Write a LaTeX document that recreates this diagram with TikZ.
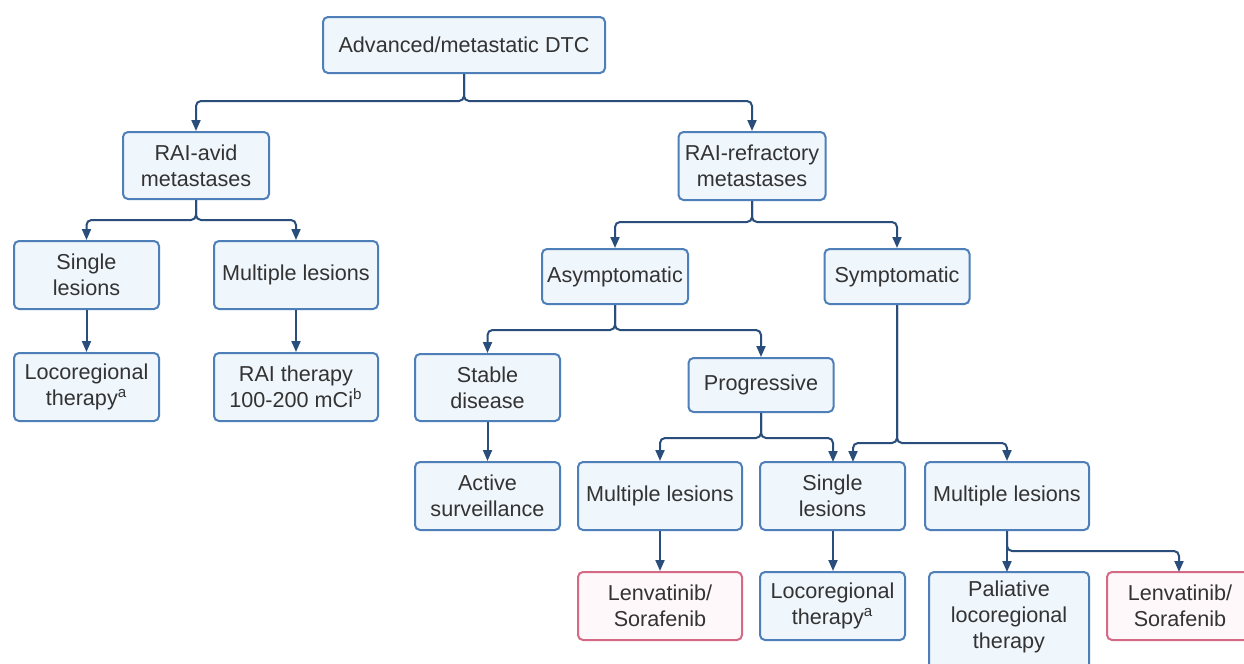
\documentclass[tikz,border=0pt]{standalone}
\usepackage{fontspec}
\setmainfont{Liberation Sans}
\usetikzlibrary{arrows.meta}
\definecolor{bxborder}{HTML}{4F7FB8}
\definecolor{bxfill}{HTML}{EFF6FC}
\definecolor{pkborder}{HTML}{D46A86}
\definecolor{pkfill}{HTML}{FFF8FA}
\definecolor{arrcol}{HTML}{2A4E7C}
\definecolor{txt}{HTML}{333333}
\begin{document}
\begin{tikzpicture}[x=0.5pt,y=-0.5pt,
  box/.style={draw=bxborder, fill=bxfill, line width=1pt, rounded corners=2.5pt,
    inner sep=0pt, align=center, text=txt, font=\fontsize{10.8}{13}\selectfont},
  pinkbox/.style={box, draw=pkborder, fill=pkfill},
  arr/.style={draw=arrcol, line width=1pt, rounded corners=2.5pt,
    -{Triangle[width=4.5pt,length=5.5pt]}}]
\useasboundingbox (0,0) rectangle (1244,664);
\clip (0,0) rectangle (1244,664);
\fill[white] (0,0) rectangle (1244,664);

% nodes
\node[box, minimum width=141pt, minimum height=28pt] (top) at (464,45) {Advanced/metastatic DTC};
\node[box, minimum width=73pt, minimum height=33.5pt] (avid) at (196,165.5) {RAI-avid\\metastases};
\node[box, minimum width=73.5pt, minimum height=34pt] (refr) at (752,166) {RAI-refractory\\metastases};
\node[box, minimum width=72.5pt, minimum height=34pt] (single1) at (86.5,275) {Single\\lesions};
\node[box, minimum width=82pt, minimum height=34pt] (mult1) at (296,275) {Multiple lesions};
\node[box, minimum width=72.5pt, minimum height=34pt] (loco1) at (86.5,387) {Locoregional\\therapy\textsuperscript{a}};
\node[box, minimum width=82pt, minimum height=34pt] (rai) at (296,387) {RAI therapy\\100-200 mCi\textsuperscript{b}};
\node[box, minimum width=73pt, minimum height=27.5pt] (asym) at (615,276.5) {Asymptomatic};
\node[box, minimum width=72.5pt, minimum height=27.5pt] (symp) at (897,276.5) {Symptomatic};
\node[box, minimum width=72.5pt, minimum height=33.5pt] (stable) at (487.5,387.5) {Stable\\disease};
\node[box, minimum width=72.5pt, minimum height=27pt] (prog) at (761,385) {Progressive};
\node[box, minimum width=72.5pt, minimum height=34pt] (active) at (487.5,496) {Active\\surveillance};
\node[box, minimum width=82pt, minimum height=34pt] (mult2) at (660,496) {Multiple lesions};
\node[box, minimum width=72.5pt, minimum height=34pt] (single2) at (832.5,496) {Single\\lesions};
\node[box, minimum width=82pt, minimum height=34pt] (mult3) at (1007,496) {Multiple lesions};
\node[pinkbox, minimum width=82pt, minimum height=34pt] (lenv1) at (660,606) {Lenvatinib/\\Sorafenib};
\node[box, minimum width=72.5pt, minimum height=34pt] (loco2) at (832.5,606) {Locoregional\\therapy\textsuperscript{a}};
\node[box, minimum width=80pt, minimum height=52pt] (pal) at (1009,624) {};
\node[text=txt, font=\fontsize{10.8}{13}\selectfont, align=center, inner sep=0pt] (paltext) at (1009,617) {Paliative\\locoregional\\therapy};
\node[pinkbox, minimum width=73pt, minimum height=34pt] (lenv2) at (1180,606) {Lenvatinib/\\Sorafenib};

% junctions
\coordinate (j1) at (464,101);
\coordinate (j2) at (196,220);
\coordinate (j3) at (752,222);
\coordinate (j4) at (615,330);
\coordinate (j5) at (761,438);
\coordinate (j6) at (897,443);
\coordinate (j7) at (1007,551);
\coordinate (s2a) at (833,462);
\coordinate (s2b) at (853,462);
\coordinate (palin) at (1007,572);
\coordinate (lenv2in) at (1179,572);

% connectors
\draw[arr] (top.south) -- (j1) -| (avid.north);
\draw[arr] (top.south) -- (j1) -| (refr.north);
\draw[arr] (avid.south) -- (j2) -| (single1.north);
\draw[arr] (avid.south) -- (j2) -| (mult1.north);
\draw[arr] (single1) -- (loco1);
\draw[arr] (mult1) -- (rai);
\draw[arr] (refr.south) -- (j3) -| (asym.north);
\draw[arr] (refr.south) -- (j3) -| (symp.north);
\draw[arr] (asym.south) -- (j4) -| (stable.north);
\draw[arr] (asym.south) -- (j4) -| (prog.north);
\draw[arr] (stable) -- (active);
\draw[arr] (prog.south) -- (j5) -| (mult2.north);
\draw[arr] (prog.south) -- (j5) -| (s2a);
\draw[arr] (symp.south) -- (j6) -| (s2b);
\draw[arr] (symp.south) -- (j6) -| (mult3.north);
\draw[arr] (mult2) -- (lenv1);
\draw[arr] (single2.south -| s2a) -- (loco2.north -| s2a);
\draw[arr] (mult3.south) -- (j7) -- (palin);
\draw[arr] (mult3.south) -- (j7) -| (lenv2in);
\end{tikzpicture}
\end{document}
